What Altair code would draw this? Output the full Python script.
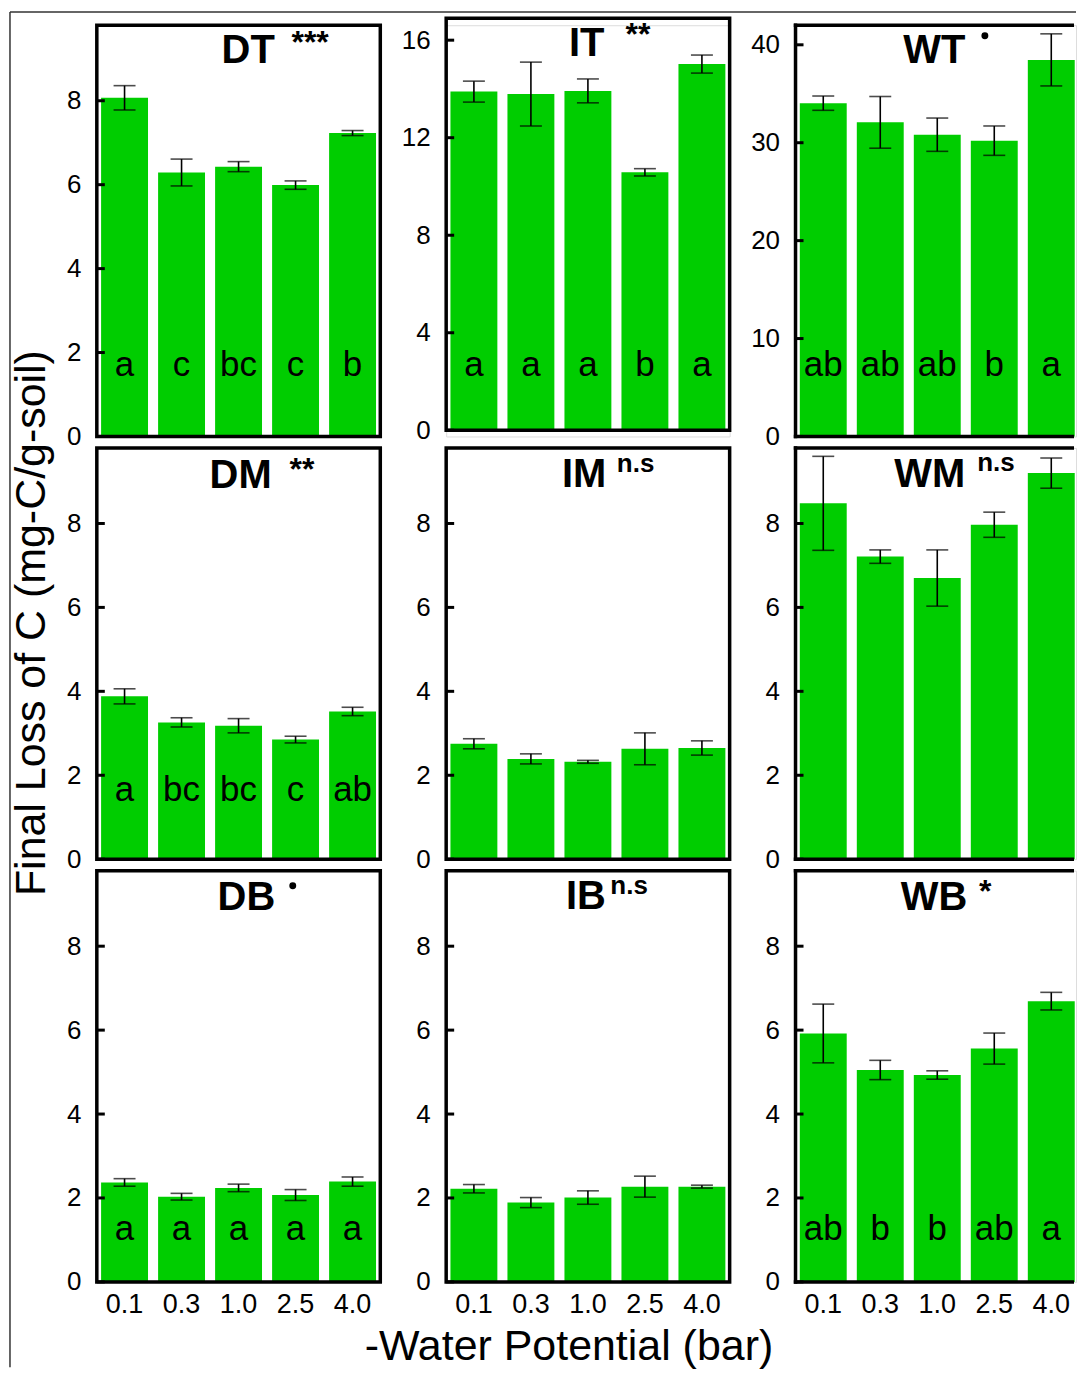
import altair as alt
import pandas as pd

# ---------------- data ----------------
potentials = ["0.1", "0.3", "1.0", "2.5", "4.0"]

panel_names = ["DT", "IT", "WT", "DM", "IM", "WM", "DB", "IB", "WB"]
panel_signif = ["***", "**", "dot", "**", "n.s", "n.s", "dot", "n.s", "*"]

dt_mean = [8.07, 6.29, 6.43, 5.99, 7.23]
dt_se = [0.29, 0.32, 0.12, 0.10, 0.06]
dt_letters = ["a", "c", "bc", "c", "b"]

it_mean = [13.89, 13.79, 13.92, 10.58, 15.02]
it_se = [0.43, 1.31, 0.49, 0.15, 0.37]
it_letters = ["a", "a", "a", "b", "a"]

wt_mean = [34.04, 32.08, 30.82, 30.21, 38.46]
wt_se = [0.73, 2.64, 1.70, 1.50, 2.66]
wt_letters = ["ab", "ab", "ab", "b", "a"]

dm_mean = [3.88, 3.26, 3.18, 2.85, 3.52]
dm_se = [0.18, 0.11, 0.17, 0.08, 0.10]
dm_letters = ["a", "bc", "bc", "c", "ab"]

im_mean = [2.75, 2.39, 2.32, 2.63, 2.65]
im_se = [0.12, 0.12, 0.035, 0.38, 0.17]
im_letters = ["", "", "", "", ""]

wm_mean = [8.48, 7.21, 6.70, 7.97, 9.20]
wm_se = [1.12, 0.16, 0.67, 0.30, 0.36]
wm_letters = ["", "", "", "", ""]

db_mean = [2.37, 2.03, 2.24, 2.07, 2.39]
db_se = [0.09, 0.08, 0.09, 0.13, 0.11]
db_letters = ["a", "a", "a", "a", "a"]

ib_mean = [2.22, 1.89, 2.01, 2.27, 2.27]
ib_se = [0.10, 0.12, 0.16, 0.25, 0.035]
ib_letters = ["", "", "", "", ""]

wb_mean = [5.92, 5.05, 4.93, 5.56, 6.69]
wb_se = [0.70, 0.23, 0.10, 0.37, 0.21]
wb_letters = ["ab", "b", "b", "ab", "a"]

y_max = [9.8, 16.9, 42.0, 9.8, 9.8, 9.8, 9.8, 9.8, 9.8]
ticks_small = [0, 2, 4, 6, 8]
ticks_it = [0, 4, 8, 12, 16]
ticks_wt = [0, 10, 20, 30, 40]

y_title = "Final Loss of C (mg-C/g-soil)"
x_title = "-Water Potential (bar)"

means = [dt_mean, it_mean, wt_mean, dm_mean, im_mean, wm_mean, db_mean, ib_mean, wb_mean]
ses = [dt_se, it_se, wt_se, dm_se, im_se, wm_se, db_se, ib_se, wb_se]
letters = [dt_letters, it_letters, wt_letters, dm_letters, im_letters, wm_letters,
           db_letters, ib_letters, wb_letters]
ticks = [ticks_small, ticks_it, ticks_wt] + [ticks_small] * 6

# ---------------- layout / style ----------------
FONT = "Liberation Sans"
GREEN = "#00CD00"
W, H = 284, 412
W_LAST = 281          # right column is cut by the page edge
FRAME_W = 3.5

frame_y = {"IT": (-7, 405.8)}
title_pos = {"DT": (125, 37.5), "IT": (123, 30.5), "WT": (108, 37.5),
             "DM": (113, 40.3), "IM": (116, 38.7), "WM": (99, 38.7),
             "DB": (121, 39.2), "IB": (120, 38.5), "WB": (105.5, 39.2)}
sig_pos = {"DT": (195, 27.5), "IT": (179.7, 20.2), "WT": (189.7, 10.5),
           "DM": (193, 31.7), "IM": (171, 23.7), "WM": (182, 22.7),
           "DB": (196.3, 15.2), "IB": (164.5, 23.5), "WB": (183.7, 31.5)}
letter_y = [351.5, 353.7, 370.0]

one = pd.DataFrame({"k": [0]})


def vrule(x, y, y2, color="black", sw=FRAME_W):
    return alt.Chart(one).mark_rule(color=color, strokeWidth=sw).encode(
        x=alt.value(x), y=alt.value(y), y2=alt.value(y2))


def hrule(y, x, x2, color="black", sw=FRAME_W):
    return alt.Chart(one).mark_rule(color=color, strokeWidth=sw).encode(
        y=alt.value(y), x=alt.value(x), x2=alt.value(x2))


def make_panel(i):
    name = panel_names[i]
    row, col = divmod(i, 3)
    pw = W_LAST if col == 2 else W
    m, s = means[i], ses[i]
    df = pd.DataFrame({
        "wp": potentials,
        "mean": m,
        "lo": [a - b for a, b in zip(m, s)],
        "hi": [a + b for a, b in zip(m, s)],
        "letter": letters[i],
    })
    y0, y1 = frame_y.get(name, (0, H))

    if row == 2:
        xaxis = alt.Axis(title=None, labelAngle=0, labelFont=FONT, labelFontSize=27,
                         labelColor="black", ticks=False, domain=False, grid=False,
                         labelPadding=10, labelBaseline="top")
    else:
        xaxis = None
    xscale = alt.Scale(paddingInner=0.177, paddingOuter=0.075, range=[0, W])
    xenc = alt.X("wp:N", sort=potentials, axis=xaxis, scale=xscale)
    xnoaxis = alt.X("wp:N", sort=potentials, scale=xscale)
    yscale = alt.Scale(domain=[0, y_max[i]], range=[y1, y0], nice=False, zero=True)
    yaxis = alt.Axis(values=ticks[i], title=None, ticks=False, domain=False, grid=False,
                     labelFont=FONT, labelFontSize=26, labelColor="black",
                     labelPadding=16, labelFlush=False, labelOverlap=False, format="d")

    base = alt.Chart(df)
    bars = base.mark_bar(color=GREEN).encode(
        x=xenc, y=alt.Y("mean:Q", scale=yscale, axis=yaxis))
    err = base.mark_rule(color="black", strokeWidth=1.6).encode(
        x=xnoaxis, y=alt.Y("lo:Q", scale=yscale), y2="hi:Q")
    cap_lo = base.mark_tick(color="black", thickness=1.6, size=22).encode(
        x=xnoaxis, y=alt.Y("lo:Q", scale=yscale))
    cap_hi = base.mark_tick(color="black", thickness=1.6, size=22).encode(
        x=xnoaxis, y=alt.Y("hi:Q", scale=yscale))
    lett = base.mark_text(font=FONT, fontSize=35, color="black", align="center",
                          baseline="alphabetic").encode(
        x=xnoaxis, y=alt.value(letter_y[row]), text="letter:N")

    tick_df = pd.DataFrame({"t": ticks[i]})
    tick_marks = alt.Chart(tick_df).mark_rule(color="black", strokeWidth=3).encode(
        y=alt.Y("t:Q", scale=yscale), x=alt.value(0), x2=alt.value(8))

    if col == 2:
        half = FRAME_W / 2
        frame = [vrule(0, y0 - half, y1 + half),
                 hrule(y0, -half, pw - 2),
                 hrule(y1, -half, pw - 2)]
    else:
        frame = [alt.Chart(one).mark_rect(fillOpacity=0, stroke="black",
                                          strokeWidth=FRAME_W).encode(
            x=alt.value(0), x2=alt.value(pw), y=alt.value(y0), y2=alt.value(y1))]

    tx, ty = title_pos[name]
    title = alt.Chart(one).mark_text(font=FONT, fontSize=40, fontWeight="bold",
                                     color="black", align="left",
                                     baseline="alphabetic").encode(
        x=alt.value(tx), y=alt.value(ty), text=alt.value(name))

    sx, sy = sig_pos[name]
    sig = panel_signif[i]
    if sig == "dot":
        sig_mark = alt.Chart(one).mark_circle(color="black", opacity=1, size=48).encode(
            x=alt.value(sx), y=alt.value(sy))
    else:
        fs = 26 if sig == "n.s" else 32
        sig_mark = alt.Chart(one).mark_text(font=FONT, fontSize=fs, fontWeight="bold",
                                            color="black", align="left",
                                            baseline="alphabetic").encode(
            x=alt.value(sx), y=alt.value(sy), text=alt.value(sig))

    layers = [bars, err, cap_lo, cap_hi, lett, tick_marks] + frame + [title, sig_mark]

    if name == "DT":
        layers.append(vrule(-87, -13.3, 1344.5, color="#333333", sw=1.5))
        layers.append(hrule(-13.3, -87, 981, color="#333333", sw=1.5))
    if name == "DM":
        layers.append(alt.Chart(one).mark_text(font=FONT, fontSize=43, color="black",
                                               align="center", baseline="alphabetic",
                                               angle=270).encode(
            x=alt.value(-52), y=alt.value(175.5), text=alt.value(y_title)))
    if name == "IB":
        layers.append(alt.Chart(one).mark_text(font=FONT, fontSize=43, color="black",
                                               align="center", baseline="alphabetic").encode(
            x=alt.value(123), y=alt.value(490), text=alt.value(x_title)))

    return alt.layer(*layers).properties(width=pw, height=H)


panels = [make_panel(i) for i in range(9)]

chart = alt.concat(*panels, columns=3, spacing={"row": 11.5, "column": 66},
                   bounds="flush", align="each").properties(
    padding={"left": 8, "top": 9, "right": 0, "bottom": 0}
).configure_view(strokeWidth=0).configure(background="white")

chart.save("out.html", embed_options={"renderer": "svg", "actions": False})
